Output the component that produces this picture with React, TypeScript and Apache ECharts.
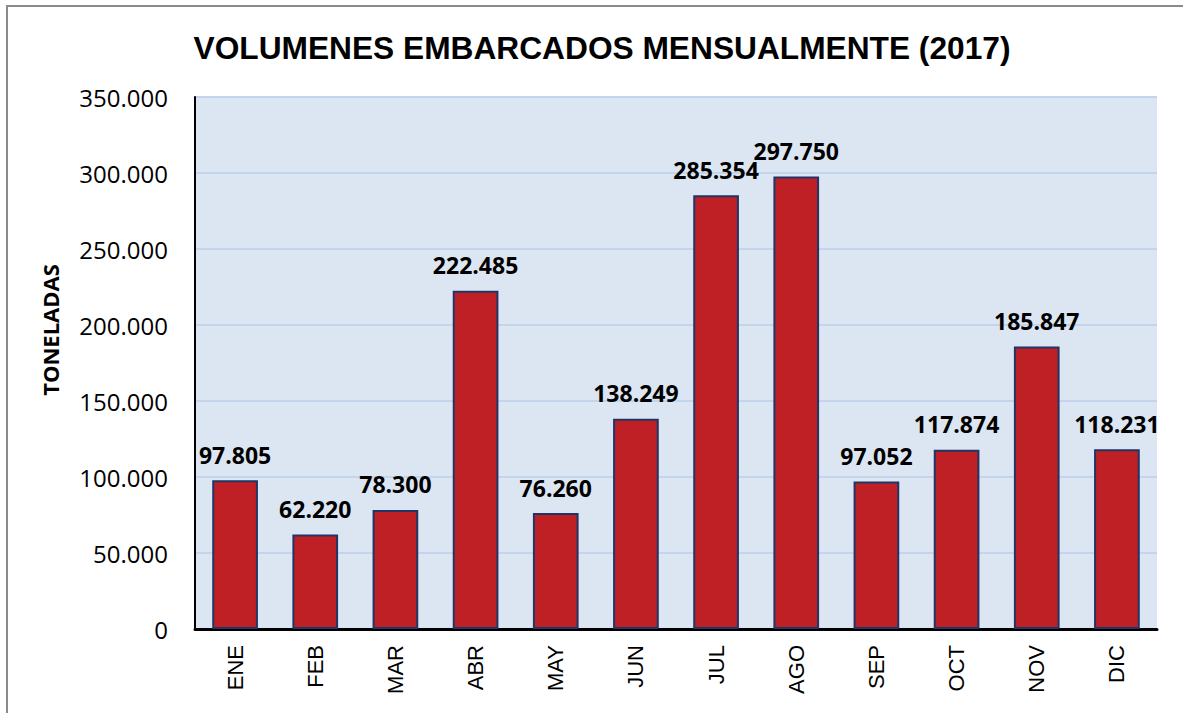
import React, { useEffect, useRef } from "react";
import * as echarts from "echarts";

const months = ["ENE", "FEB", "MAR", "ABR", "MAY", "JUN", "JUL", "AGO", "SEP", "OCT", "NOV", "DIC"];
const volumes = [97805, 62220, 78300, 222485, 76260, 138249, 285354, 297750, 97052, 117874, 185847, 118231];
const titleText = "VOLUMENES EMBARCADOS MENSUALMENTE (2017)";
const yAxisName = "TONELADAS";

const fmt = (v: number) => {
  if (v === 0) return "0";
  return String(Math.round(v)).replace(/\B(?=(\d{3})+(?!\d))/g, ".");
};

export default function App() {
  const ref = useRef<HTMLDivElement>(null);
  useEffect(() => {
    document.body.style.margin = "0";
    const chart = echarts.init(ref.current!, null, { renderer: "svg" });
    chart.setOption({
      animation: false,
      backgroundColor: "#ffffff",
      title: {
        text: titleText,
        left: 597,
        textAlign: "center",
        top: 27,
        textStyle: { fontFamily: "Liberation Sans", fontWeight: "bold", fontSize: 31.7, color: "#000" },
      },
      graphic: [
        {
          type: "rect",
          shape: { x: 7, y: 6, width: 1200, height: 800 },
          style: { fill: "none", stroke: "#8a8a8a", lineWidth: 2 },
          silent: true,
        },
        {
          type: "text",
          x: 50,
          y: 330,
          rotation: Math.PI / 2,
          style: {
            text: yAxisName,
            fontFamily: "Open Sans",
            fontWeight: "bold",
            fontSize: 22,
            fill: "#000",
            align: "center",
            verticalAlign: "middle",
          },
          silent: true,
        },
      ],
      grid: {
        left: 195,
        right: 26,
        top: 97,
        bottom: 84,
        show: true,
        backgroundColor: "#dce6f2",
        borderWidth: 0,
      },
      xAxis: {
        type: "category",
        data: months,
        axisLine: { show: true, lineStyle: { color: "#000", width: 3 } },
        axisTick: { show: false },
        axisLabel: {
          rotate: 90,
          margin: 16,
          fontFamily: "Liberation Sans",
          fontSize: 22,
          color: "#000",
        },
      },
      yAxis: {
        type: "value",
        min: 0,
        max: 350000,
        interval: 50000,
        axisLine: { show: true, lineStyle: { color: "#000", width: 2 } },
        axisTick: { show: false },
        splitLine: { lineStyle: { color: "#c4d4ea", width: 2 } },
        axisLabel: {
          formatter: (v: number) => fmt(v),
          margin: 27,
          fontFamily: "Open Sans",
          fontSize: 24,
          color: "#000",
        },
      },
      series: [
        {
          type: "bar",
          data: volumes,
          barWidth: "57%",
          itemStyle: { color: "#be2026", borderColor: "#1f3566", borderWidth: 2 },
          label: {
            show: true,
            position: "top",
            distance: 14,
            formatter: (p: any) => fmt(p.value),
            fontFamily: "Open Sans",
            fontWeight: "bold",
            fontSize: 23,
            color: "#000",
          },
        },
      ],
    });
    return () => chart.dispose();
  }, []);
  return <div ref={ref} style={{ width: 1183, height: 713 }} />;
}
